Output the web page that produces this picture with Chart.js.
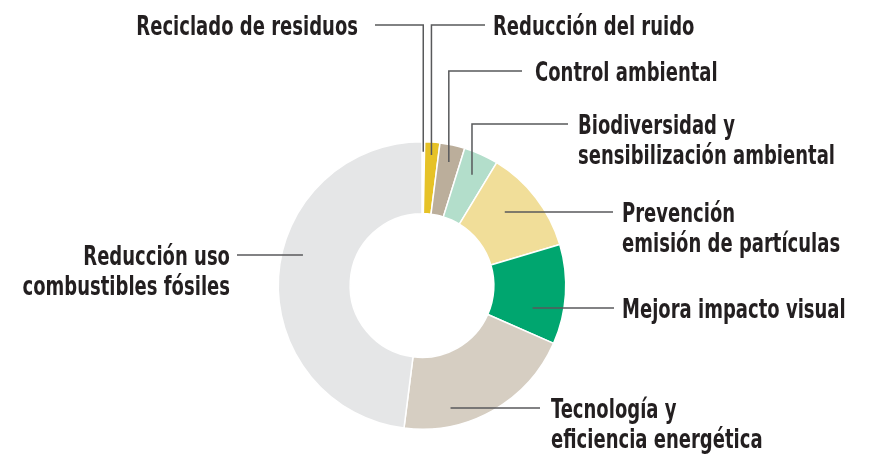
<!DOCTYPE html>
<html>
<head>
<meta charset="utf-8">
<script src="https://cdn.jsdelivr.net/npm/chart.js@4/dist/chart.umd.min.js"></script>
<style>
  html, body { margin: 0; padding: 0; background: #fff; }
  #wrap { width: 881px; height: 455px; position: relative; }
</style>
</head>
<body>
<div id="wrap"><canvas id="chart" width="881" height="455"></canvas></div>
<script>
// inversion ambiental por categoria (% del total)
const categories = [
  ['Reciclado de residuos'],
  ['Reducción del ruido'],
  ['Control ambiental'],
  ['Biodiversidad y', 'sensibilización ambiental'],
  ['Prevención', 'emisión de partículas'],
  ['Mejora impacto visual'],
  ['Tecnología y', 'eficiencia energética'],
  ['Reducción uso', 'combustibles fósiles'],
];
const shares = [0.3, 1.7, 2.8, 3.9, 11.7, 11.2, 20.4, 48.0];
const sliceColors = ['#fafafa', '#e6c227', '#bbae9b', '#b3decb', '#f1de99', '#00a66f', '#d6cec2', '#e5e6e7'];

// where each label sits and how its leader line runs
// r = radial position in the ring (0 inner edge, 1 outer edge)
const labelLayout = [
  { kind: 'v', r: 0.86, ly: 25,  lineTo: 375, tx: 358, align: 'right' },
  { kind: 'v', r: 0.82, ly: 25,  lineTo: 485, tx: 493, align: 'left' },
  { kind: 'v', r: 0.76, ly: 71,  lineTo: 522, tx: 535, align: 'left' },
  { kind: 'v', r: 0.69, ly: 124, lineTo: 568, tx: 578, align: 'left' },
  { kind: 'h', r: 0.54, ly: 212, lineTo: 613, tx: 622, align: 'left' },
  { kind: 'h', r: 0.57, ly: 308, lineTo: 614, tx: 622, align: 'left' },
  { kind: 'h', r: 0.75, ly: 408, lineTo: 540, tx: 551, align: 'left' },
  { kind: 'h', r: 0.71, ly: 255, lineTo: 237, tx: 230, align: 'right' },
];

const LABEL_FONT = 'bold 26px "Liberation Sans Narrow", "DejaVu Sans Condensed", "Roboto", sans-serif';
const LINE_GAP = 30;
const TEXT_SCALE_X = 0.77; // squeeze toward the very narrow original face

const leaderLabels = {
  id: 'leaderLabels',
  afterDatasetsDraw(chart) {
    const ctx = chart.ctx;
    const arcs = chart.getDatasetMeta(0).data;
    ctx.save();
    ctx.strokeStyle = '#58595b';
    ctx.lineWidth = 1.5;
    ctx.fillStyle = '#231f20';
    ctx.font = LABEL_FONT;
    arcs.forEach((arc, i) => {
      const lay = labelLayout[i];
      if (!lay) return;
      const { x, y, startAngle, endAngle, innerRadius, outerRadius } =
        arc.getProps(['x', 'y', 'startAngle', 'endAngle', 'innerRadius', 'outerRadius'], true);
      const rad = innerRadius + (outerRadius - innerRadius) * lay.r;
      ctx.beginPath();
      if (lay.kind === 'v') {
        const mid = (startAngle + endAngle) / 2;
        const ax = x + Math.cos(mid) * rad;
        const ay = y + Math.sin(mid) * rad;
        ctx.moveTo(ax, ay);
        ctx.lineTo(ax, lay.ly);
        ctx.lineTo(lay.lineTo, lay.ly);
      } else {
        const dy = lay.ly - y;
        const dx = Math.sqrt(Math.max(rad * rad - dy * dy, 0));
        const ax = lay.align === 'left' ? x + dx : x - dx;
        ctx.moveTo(ax, lay.ly);
        ctx.lineTo(lay.lineTo, lay.ly);
      }
      ctx.stroke();

      ctx.textAlign = lay.align;
      ctx.textBaseline = 'alphabetic';
      categories[i].forEach((line, k) => {
        ctx.save();
        ctx.translate(lay.tx, lay.ly + 10 + k * LINE_GAP);
        ctx.scale(TEXT_SCALE_X, 1);
        ctx.fillText(line, 0, 0);
        ctx.restore();
      });
    });
    ctx.restore();
  }
};

new Chart(document.getElementById('chart'), {
  type: 'doughnut',
  data: {
    labels: categories.map(c => c.join(' ')),
    datasets: [{
      data: shares,
      backgroundColor: sliceColors,
      borderColor: '#ffffff',
      borderWidth: 1.5,
    }]
  },
  options: {
    responsive: false,
    animation: false,
    cutout: '50%',
    layout: { padding: { top: 141, bottom: 25, left: 250, right: 287 } },
    plugins: { legend: { display: false }, tooltip: { enabled: false } },
  },
  plugins: [leaderLabels]
});
</script>
</body>
</html>
